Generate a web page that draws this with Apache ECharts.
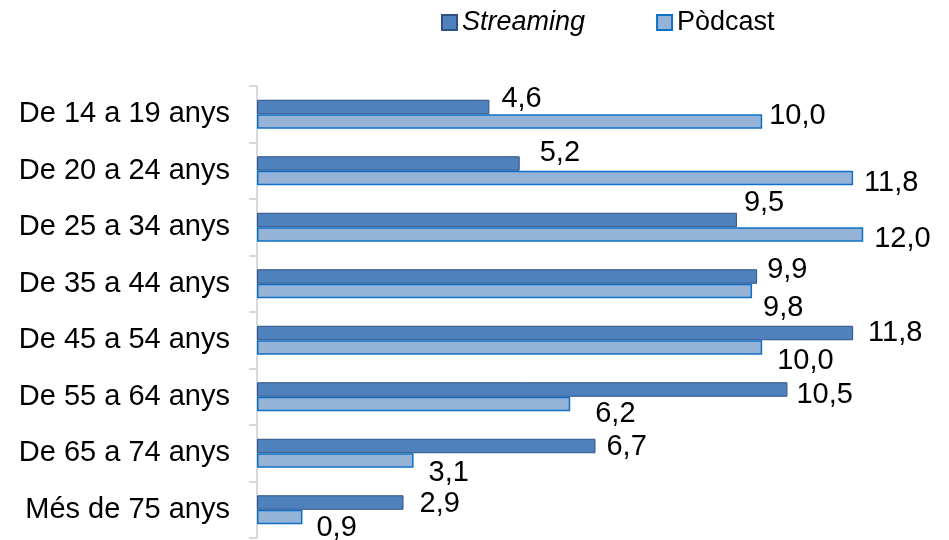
<!DOCTYPE html>
<html>
<head>
<meta charset="utf-8">
<script src="https://cdn.jsdelivr.net/npm/echarts@6/dist/echarts.min.js"></script>
<style>
  html, body { margin: 0; padding: 0; background: #fff; }
  #chart { width: 949px; height: 540px; }
</style>
</head>
<body>
<div id="chart"></div>
<script>
// dades
var categories = ['De 14 a 19 anys', 'De 20 a 24 anys', 'De 25 a 34 anys', 'De 35 a 44 anys',
                  'De 45 a 54 anys', 'De 55 a 64 anys', 'De 65 a 74 anys', 'Més de 75 anys'];
var streaming = [4.6, 5.2, 9.5, 9.9, 11.8, 10.5, 6.7, 2.9];
var podcast = [10.0, 11.8, 12.0, 9.8, 10.0, 6.2, 3.1, 0.9];

var font = 'Liberation Sans';
var myChart = echarts.init(document.getElementById('chart'));

// desplaçament manual de les etiquetes (com a l'original)
var streamingLabelShift = [[12, -8], [20, -11], [7, -17], [10, -7], [15, 0], [9, 5], [11, 1], [16, 1]];
var podcastLabelShift = [[7, -6], [11, 5], [11, 4], [11, 17], [15, 13], [25, 10], [15, 12], [14, 11]];

function fmt(p) {
    return p.value.toFixed(1).replace('.', ',');
}

function withLabels(values, shifts) {
    return values.map(function (v, i) {
        return { value: v, label: { offset: shifts[i] } };
    });
}

myChart.setOption({
    animation: false,
    textStyle: { fontFamily: font },
    legend: {
        top: 4,
        left: 436,
        icon: 'rect',
        itemWidth: 15,
        itemHeight: 15,
        itemGap: 71,
        textStyle: { fontSize: 27, color: '#000', fontFamily: font },
        data: [
            { name: 'Streaming', textStyle: { fontStyle: 'italic' } },
            { name: 'Pòdcast' }
        ]
    },
    grid: {
        left: 257,
        right: 10,
        top: 86,
        bottom: 2
    },
    xAxis: {
        type: 'value',
        min: 0,
        max: 13.5,
        show: false
    },
    yAxis: {
        type: 'category',
        inverse: true,
        data: categories,
        axisLine: { lineStyle: { color: '#d9d9d9', width: 2 } },
        axisTick: { show: true, length: 8, lineStyle: { color: '#d9d9d9', width: 2 } },
        axisLabel: { fontSize: 29, color: '#000', margin: 27, fontFamily: font }
    },
    series: [
        {
            name: 'Streaming',
            type: 'bar',
            barWidth: 14.5,
            barGap: '0%',
            itemStyle: { color: '#4f81bd', borderColor: '#2f5286', borderWidth: 1 },
            label: {
                show: true,
                position: 'right',
                distance: 0,
                fontSize: 29,
                color: '#000',
                formatter: fmt
            },
            data: withLabels(streaming, streamingLabelShift)
        },
        {
            name: 'Pòdcast',
            type: 'bar',
            barWidth: 14.5,
            itemStyle: { color: '#95b3d7', borderColor: '#0f70c8', borderWidth: 1.5 },
            label: {
                show: true,
                position: 'right',
                distance: 0,
                fontSize: 29,
                color: '#000',
                formatter: fmt
            },
            data: withLabels(podcast, podcastLabelShift)
        }
    ]
});
</script>
</body>
</html>
